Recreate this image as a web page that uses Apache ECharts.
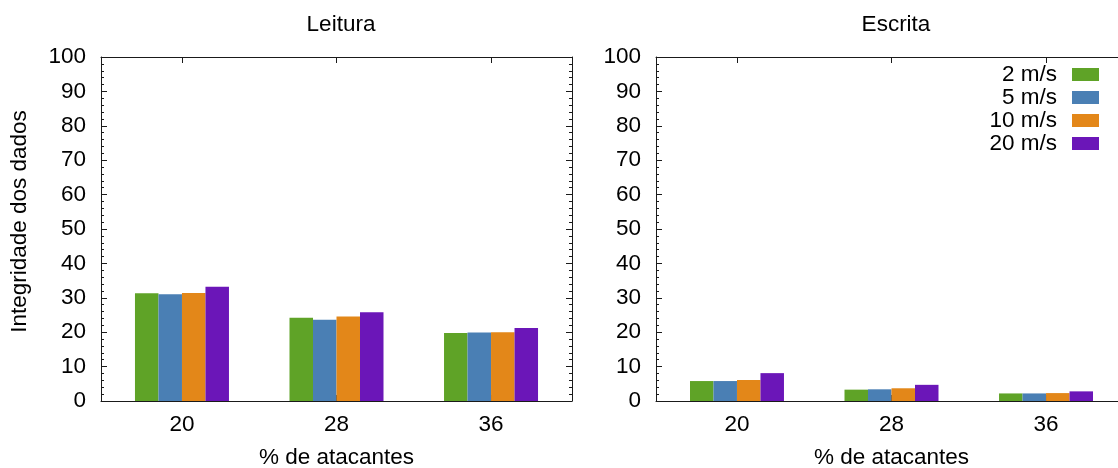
<!DOCTYPE html>
<html>
<head>
<meta charset="utf-8">
<script src="https://cdn.jsdelivr.net/npm/echarts@6/dist/echarts.min.js"></script>
<style>
  html, body { margin: 0; padding: 0; background: #fff; }
  #chart { width: 1118px; height: 468px; }
</style>
</head>
<body>
<div id="chart"></div>
<script>
// Attacker share groups on the x axis
const categories = ['20', '28', '36'];
const speeds = ['2 m/s', '5 m/s', '10 m/s', '20 m/s'];
const colors = ['#5fa327', '#4a7fb4', '#e38719', '#6b16b8'];

// Data integrity (%) for read operations, one array per speed
const leitura2 = [31.3, 24.2, 19.8];
const leitura5 = [31.0, 23.6, 19.9];
const leitura10 = [31.4, 24.6, 20.0];
const leitura20 = [33.2, 25.8, 21.2];

// Data integrity (%) for write operations, one array per speed
const escrita2 = [5.8, 3.3, 2.2];
const escrita5 = [5.8, 3.4, 2.2];
const escrita10 = [6.1, 3.7, 2.3];
const escrita20 = [8.1, 4.7, 2.8];

const yTicks = [0, 10, 20, 30, 40, 50, 60, 70, 80, 90, 100];

const leitura = [leitura2, leitura5, leitura10, leitura20];
const escrita = [escrita2, escrita5, escrita10, escrita20];

const FONT = "'Liberation Sans', Arial, sans-serif";
const FS = 22.5;
const TXT = '#000';
const LINE = { color: '#1a1a1a', width: 1 };
const catIdx = categories.map((_, i) => i);

// x range leaves a bit more than half a category of space on each side
const XMIN = -0.524, XMAX = 2.524;

function bottomX(gridIndex) {
  return {
    type: 'value', gridIndex, position: 'bottom', min: XMIN, max: XMAX,
    axisLine: { show: true, onZero: false, lineStyle: LINE },
    axisTick: { show: true, inside: true, length: 6, lineStyle: LINE, customValues: catIdx },
    axisLabel: {
      show: true, customValues: catIdx, margin: 12,
      formatter: v => categories[Math.round(v)],
      color: TXT, fontFamily: FONT, fontSize: FS
    },
    splitLine: { show: false },
    name: '% de atacantes', nameLocation: 'middle', nameGap: 45,
    nameTextStyle: { color: TXT, fontFamily: FONT, fontSize: FS }
  };
}
function topX(gridIndex) {
  return {
    type: 'value', gridIndex, position: 'top', min: XMIN, max: XMAX,
    axisLine: { show: true, onZero: false, lineStyle: LINE },
    axisTick: { show: true, inside: true, length: 6, lineStyle: LINE, customValues: catIdx },
    axisLabel: { show: false },
    splitLine: { show: false }
  };
}
function leftY(gridIndex, withName) {
  const ax = {
    type: 'value', gridIndex, position: 'left', min: 0, max: 100, interval: 10,
    axisLine: { show: true, onZero: false, lineStyle: LINE },
    axisTick: { show: true, inside: true, length: 6, lineStyle: LINE },
    minorTick: { show: true, splitNumber: 5, length: 3, lineStyle: LINE },
    axisLabel: {
      show: true, margin: 15, color: TXT, fontFamily: FONT, fontSize: FS,
      formatter: v => (yTicks.indexOf(v) >= 0 ? String(v) : '')
    },
    splitLine: { show: false }, minorSplitLine: { show: false }
  };
  if (withName) {
    ax.name = 'Integridade dos dados';
    ax.nameLocation = 'middle';
    ax.nameGap = 70;
    ax.nameRotate = 90;
    ax.nameTextStyle = { color: TXT, fontFamily: FONT, fontSize: FS, padding: [0, 0, 0, 15] };
  }
  return ax;
}
function rightY(gridIndex) {
  return {
    type: 'value', gridIndex, position: 'right', min: 0, max: 100, interval: 10,
    axisLine: { show: true, onZero: false, lineStyle: LINE },
    axisTick: { show: true, inside: true, length: 6, lineStyle: LINE },
    minorTick: { show: true, splitNumber: 5, length: 3, lineStyle: LINE },
    axisLabel: { show: false },
    splitLine: { show: false }, minorSplitLine: { show: false }
  };
}

const series = [];
[leitura, escrita].forEach((panel, p) => {
  panel.forEach((vals, s) => {
    series.push({
      type: 'bar', name: speeds[s],
      xAxisIndex: p * 2, yAxisIndex: p * 2,
      barWidth: 23.5, barGap: '0%',
      itemStyle: { color: colors[s] },
      data: vals.map((v, i) => [i, v])
    });
  });
});

const chart = echarts.init(document.getElementById('chart'), null, { renderer: 'canvas' });
chart.setOption({
  animation: false,
  backgroundColor: '#fff',
  title: [
    { text: 'Leitura', left: 336, top: 8, textAlign: 'center',
      textStyle: { color: TXT, fontFamily: FONT, fontSize: FS, fontWeight: 'normal' } },
    { text: 'Escrita', left: 891, top: 8, textAlign: 'center',
      textStyle: { color: TXT, fontFamily: FONT, fontSize: FS, fontWeight: 'normal' } }
  ],
  legend: {
    data: speeds, orient: 'vertical', align: 'right',
    right: 14, top: 58, itemWidth: 27, itemHeight: 13, itemGap: 0,
    icon: 'rect',
    textStyle: { color: TXT, fontFamily: FONT, fontSize: FS, lineHeight: 21, padding: [0, 10, 0, 0] }
  },
  grid: [
    { left: 101, top: 57, width: 471, height: 344, outerBoundsMode: 'none' },
    { left: 656, top: 57, width: 471, height: 344, outerBoundsMode: 'none' }
  ],
  xAxis: [bottomX(0), topX(0), bottomX(1), topX(1)],
  yAxis: [leftY(0, true), rightY(0), leftY(1, false), rightY(1)],
  series
});
</script>
</body>
</html>
